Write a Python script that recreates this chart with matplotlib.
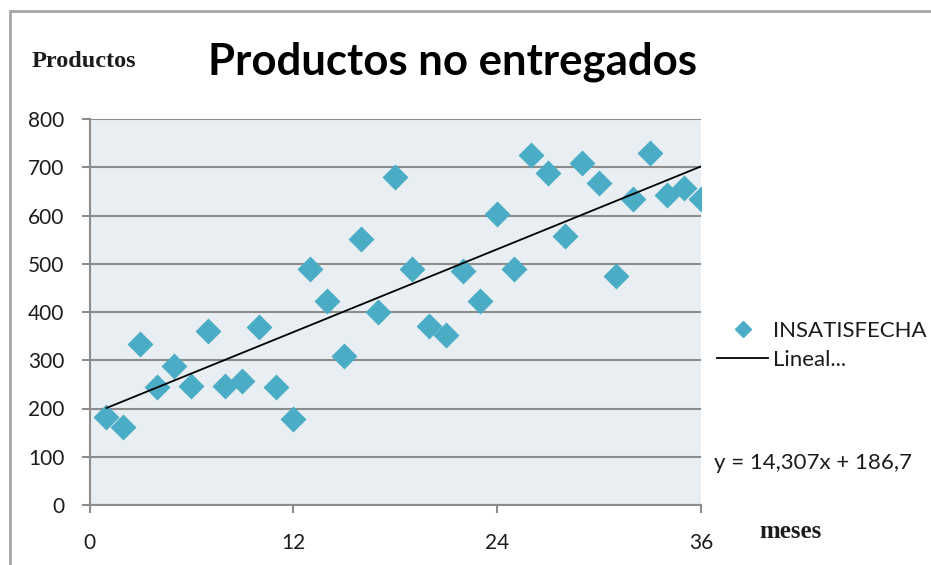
import matplotlib
matplotlib.use("Agg")
import matplotlib.pyplot as plt
from matplotlib.lines import Line2D
from matplotlib.patches import Rectangle

# monthly count of undelivered products (INSATISFECHA)
meses = list(range(1, 37))
insatisfecha = [183, 161, 333, 244, 289, 247, 361, 247, 256, 369,
                244, 178, 490, 422, 308, 551, 401, 680, 490, 370,
                352, 486, 422, 604, 490, 725, 689, 558, 708, 668,
                474, 635, 729, 643, 658, 635]

# linear trendline as reported in the chart
TREND_SLOPE = 14.307
TREND_INTERCEPT = 186.7

x_ticks = [0, 12, 24, 36]
y_ticks = list(range(0, 801, 100))

MARKER_COLOR = "#4bacc6"
GRID_COLOR = "#8c8c8c"
TEXT_COLOR = "#1c1c1c"
SANS = "Lato"
SERIF = "Liberation Serif"

W, H = 931, 565
fig = plt.figure(figsize=(W / 100, H / 100), dpi=100)

# chart frame
fig.patches.append(Rectangle((10 / W, -0.1), 1.2, 1.1 - 11 / H,
                             transform=fig.transFigure, fill=False,
                             edgecolor="#a6a6a6", lw=2))

ax = fig.add_axes([89.5 / W, 1 - 505 / H, (701 - 89.5) / W, (505 - 119) / H])
ax.set_facecolor("#e8eef2")

ax.scatter(meses, insatisfecha, marker="D", s=175, color=MARKER_COLOR,
           linewidths=0, zorder=3)

x0, x1 = meses[0], meses[-1]
ax.plot([x0, x1], [TREND_SLOPE * x0 + TREND_INTERCEPT, TREND_SLOPE * x1 + TREND_INTERCEPT],
        color="black", lw=1.3, zorder=4)

ax.set_xlim(0, 36)
ax.set_ylim(0, 800)
ax.set_xticks(x_ticks)
ax.set_yticks(y_ticks)
ax.set_xticklabels([str(t) for t in x_ticks])
ax.set_yticklabels([str(t) for t in y_ticks])
ax.yaxis.grid(True, color=GRID_COLOR, lw=1.5)
ax.set_axisbelow(True)

for side in ("top", "right"):
    ax.spines[side].set_visible(False)
for side in ("left", "bottom"):
    ax.spines[side].set_color(GRID_COLOR)
    ax.spines[side].set_linewidth(1.5)

ax.tick_params(axis="both", colors=GRID_COLOR, width=1.5, length=6,
               labelcolor=TEXT_COLOR, labelsize=15)
ax.tick_params(axis="y", pad=12)
ax.tick_params(axis="x", pad=14)
for lab in ax.get_xticklabels() + ax.get_yticklabels():
    lab.set_fontfamily(SANS)

fig.text(452 / W, 1 - 75 / H, "Productos no entregados", ha="center",
         va="baseline", fontsize=31.5, fontweight="bold", family=SANS, color="black")
fig.text(32 / W, 1 - 67 / H, "Productos", ha="left", va="baseline",
         fontsize=17.5, fontweight="bold", family=SERIF, color=TEXT_COLOR)
fig.text(759 / W, 1 - 538 / H, "meses", ha="left", va="baseline",
         fontsize=18, fontweight="bold", family=SERIF, color=TEXT_COLOR)

handles = [Line2D([], [], marker="D", color=MARKER_COLOR, linestyle="none", markersize=8.5),
           Line2D([], [], color="black", lw=1.3)]
fig.legend(handles, ["INSATISFECHA", "Lineal..."], loc="center left",
           bbox_to_anchor=(717 / W, 1 - 345.5 / H), bbox_transform=fig.transFigure,
           frameon=False, borderpad=0, borderaxespad=0, handlelength=2.3,
           handletextpad=0.22, labelspacing=0.4,
           prop={"family": SANS, "size": 16}, labelcolor=TEXT_COLOR)

fig.text(714 / W, 1 - 463 / H, "y = 14,307x + 186,7", ha="left", va="center",
         fontsize=16, family=SANS, color=TEXT_COLOR)

fig.savefig("out.png", dpi=100)
